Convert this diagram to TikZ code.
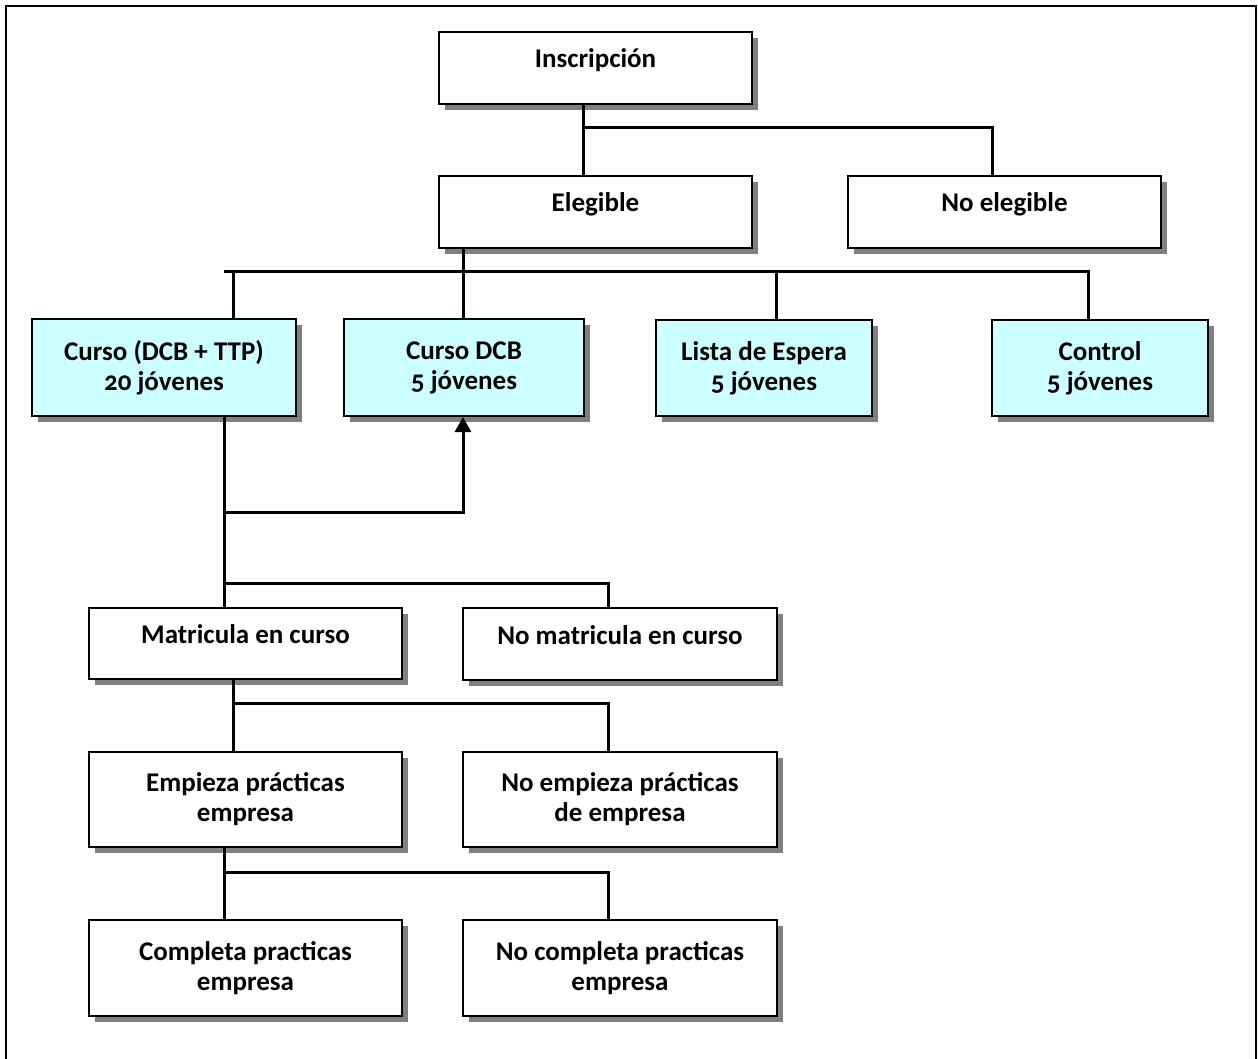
\documentclass[tikz,border=0pt]{standalone}
\usepackage{fontspec}
\setmainfont{Carlito}[Numbers=OldStyle]
\usetikzlibrary{shadows,arrows.meta}
\definecolor{boxcyan}{HTML}{CCFFFF}
\definecolor{shadowgray}{HTML}{808080}
\begin{document}
\begin{tikzpicture}[x=1pt,y=-1pt,
  font=\fontsize{27}{30}\selectfont\bfseries,
  orgbox/.style={draw, line width=2pt, fill=white, inner sep=0pt, align=center,
    drop shadow={shadow xshift=6pt, shadow yshift=-6pt, fill=shadowgray, opacity=1}},
  cyanbox/.style={orgbox, fill=boxcyan},
  oneline/.style={text height=10pt, text depth=10pt},
  conn/.style={line width=3pt}]
\useasboundingbox (0,0) rectangle (1258,1059);
\draw[line width=2pt] (6,6) rectangle (1256,1075);

% nodes
\node[orgbox, oneline, minimum width=313pt, minimum height=72pt] (ins) at (595.5,68) {Inscripción};
\node[orgbox, oneline, minimum width=313pt, minimum height=72pt] (eleg) at (595.5,212) {Elegible};
\node[orgbox, oneline, minimum width=313pt, minimum height=72pt] (noel) at (1004.5,212) {No elegible};

\node[cyanbox, minimum width=264pt, minimum height=97pt] (cur1) at (164,367.5) {Curso (DCB + TTP)\\20 jóvenes};
\node[cyanbox, minimum width=240pt, minimum height=97pt] (cur2) at (464,367.5) {Curso DCB\\5 jóvenes};
\node[cyanbox, minimum width=216pt, minimum height=96pt] (lista) at (764,368) {Lista de Espera\\5 jóvenes};
\node[cyanbox, minimum width=216pt, minimum height=96pt] (ctrl) at (1100,368) {Control\\5 jóvenes};

\node[orgbox, oneline, minimum width=313pt, minimum height=71pt] (mat) at (245.5,643.5) {Matricula en curso};
\node[orgbox, oneline, minimum width=314pt, minimum height=72pt] (nomat) at (620,644) {No matricula en curso};
\node[orgbox, minimum width=313pt, minimum height=95pt] (emp) at (245.5,799.5) {Empieza prácticas\\empresa};
\node[orgbox, minimum width=314pt, minimum height=95pt] (noemp) at (620,799.5) {No empieza prácticas\\de empresa};
\node[orgbox, minimum width=313pt, minimum height=96pt] (comp) at (245.5,968) {Completa practicas\\empresa};
\node[orgbox, minimum width=314pt, minimum height=96pt] (nocomp) at (620,968) {No completa practicas\\empresa};

% bus coordinates
\coordinate (b1) at (583,128);
\coordinate (b1r) at (992,128);
\coordinate (b2l) at (224,272);
\coordinate (b2a) at (233,272);
\coordinate (b2b) at (463,272);
\coordinate (b2c) at (776,272);
\coordinate (b2r) at (1088,272);
\coordinate (t1) at (224,512);
\coordinate (t1r) at (463,512);
\coordinate (t2) at (224,583);
\coordinate (t2r) at (608,583);
\coordinate (t3) at (233,703);
\coordinate (t3r) at (608,703);
\coordinate (t4) at (224,872);
\coordinate (t4r) at (608,872);

% connectors
\draw[conn] (ins.south -| b1) -- (eleg.north -| b1);
\draw[conn] (b1) -- (b1r) -- (noel.north -| b1r);

\draw[conn] (eleg.south -| b2b) -- (cur2.north -| b2b);
\draw[conn] (b2l) -- (b2r) -- (ctrl.north -| b2r);
\draw[conn] (b2a) -- (cur1.north -| b2a);
\draw[conn] (b2c) -- (lista.north -| b2c);

\draw[conn] (cur1.south -| t1) -- (mat.north -| t1);
\draw[conn, -{Triangle[length=15pt,width=16pt]}] (t1) -- (t1r) -- (cur2.south -| t1r);
\draw[conn] (t2) -- (t2r) -- (nomat.north -| t2r);

\draw[conn] (mat.south -| t3) -- (emp.north -| t3);
\draw[conn] (t3) -- (t3r) -- (noemp.north -| t3r);

\draw[conn] (emp.south -| t4) -- (comp.north -| t4);
\draw[conn] (t4) -- (t4r) -- (nocomp.north -| t4r);
\end{tikzpicture}
\end{document}
